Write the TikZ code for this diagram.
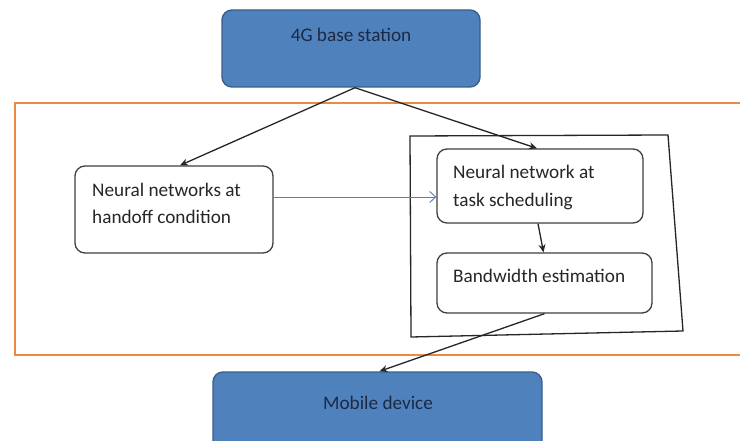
\documentclass[tikz,border=0pt]{standalone}
\usepackage{fontspec}
\setmainfont{Carlito}
\usetikzlibrary{arrows.meta}
\definecolor{boxblue}{HTML}{4F81BD}
\definecolor{boxedge}{HTML}{3A5F8B}
\definecolor{frameorange}{HTML}{EC8A42}
\definecolor{linkblue}{HTML}{5B7DB5}
\definecolor{inktext}{HTML}{262626}
\definecolor{navytext}{HTML}{1C2A44}
\tikzset{
  bluebox/.style={draw=boxedge, line width=1.4bp, fill=boxblue, rounded corners=10bp, inner sep=0pt},
  whitebox/.style={draw=black!75, line width=1.3bp, fill=white, rounded corners=10bp, inner sep=0pt},
  label/.style={font=\fontsize{19.3}{27}\selectfont, text=inktext, anchor=west, align=left, inner sep=0pt},
  bluelabel/.style={font=\fontsize{19.3}{27}\selectfont, text=navytext, inner sep=0pt},
  flow/.style={draw=black!85, line width=1.3bp, -{Stealth[length=8bp,width=7bp]}},
  lightflow/.style={draw=linkblue, line width=0.9bp, -{Straight Barb[length=6bp,width=11bp]}}
}
\begin{document}
\begin{tikzpicture}[x=1bp, y=-1bp]
  \useasboundingbox (0,0) rectangle (740,441);
  \fill[white] (0,0) rectangle (740,441);

  % orange frame around the processing stages (open to the right)
  \draw[frameorange, line width=2.6bp] (740,103) -- (15,103) -- (15,355) -- (740,355);

  % base station and mobile device
  \node[bluebox, minimum width=258bp, minimum height=77bp] (bs) at (351,48.5) {};
  \node[bluelabel] (bsl) at (351,35) {4G base station};
  \node[bluebox, minimum width=329bp, minimum height=88bp] (md) at (377.5,416) {};
  \node[bluelabel] (mdl) at (378,403) {Mobile device};

  % skewed enclosure of the task-side stages
  \draw[black!85, line width=1.3bp] (410,136) -- (668,135) -- (683,331) -- (411,337) -- cycle;

  % handoff stage
  \node[whitebox, minimum width=198bp, minimum height=87bp] (ho) at (174,209.5) {};
  \node[label] (hol) at (92,203.5) {Neural networks at\\handoff condition};

  % task scheduling stage
  \node[whitebox, minimum width=206bp, minimum height=74bp] (ts) at (540,186) {};
  \node[label] (tsl) at (453,187.5) {Neural network at\\[2bp]task scheduling};

  % bandwidth stage
  \node[whitebox, minimum width=215bp, minimum height=60bp] (bw) at (544.5,283) {};
  \node[label] (bwl) at (453,276) {Bandwidth estimation};

  % connectors
  \draw[flow] ([xshift=4bp]bs.south) -- ([xshift=6bp]ho.north);
  \draw[flow] ([xshift=4bp]bs.south) -- ([xshift=-3bp]ts.north);
  \draw[lightflow] (ho.east |- 0,197) -- (ts.west |- 0,197);
  \draw[flow] ([xshift=-2bp]ts.south) -- ([xshift=-1bp]bw.north);
  \draw[flow] (bw.south) -- ([xshift=2bp]md.north);
\end{tikzpicture}
\end{document}
